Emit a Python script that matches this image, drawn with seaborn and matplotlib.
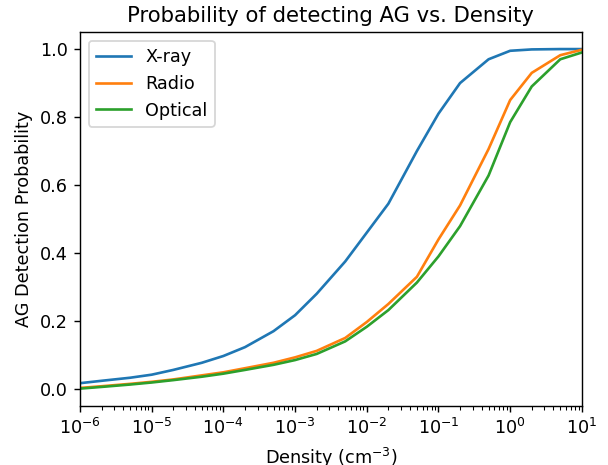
import seaborn as sns
import matplotlib.pyplot as plt
import pandas as pd

density = [1e-6, 2e-6, 5e-6, 1e-5, 2e-5, 5e-5, 1e-4, 2e-4, 5e-4,
           1e-3, 2e-3, 5e-3, 1e-2, 2e-2, 5e-2, 1e-1, 2e-1, 5e-1,
           1.0, 2.0, 5.0, 10.0]
xray = [0.017, 0.024, 0.033, 0.042, 0.056, 0.077, 0.097, 0.123, 0.17,
        0.217, 0.28, 0.375, 0.46, 0.545, 0.70, 0.81, 0.90, 0.97,
        0.995, 0.999, 1.0, 1.0]
radio = [0.003, 0.008, 0.015, 0.021, 0.028, 0.04, 0.049, 0.061, 0.077,
         0.093, 0.112, 0.15, 0.197, 0.25, 0.33, 0.44, 0.54, 0.706,
         0.85, 0.93, 0.982, 0.998]
optical = [0.001, 0.006, 0.013, 0.019, 0.026, 0.036, 0.045, 0.056, 0.071,
           0.085, 0.103, 0.14, 0.183, 0.232, 0.313, 0.39, 0.479, 0.628,
           0.785, 0.89, 0.97, 0.99]
bands = ['X-ray', 'Radio', 'Optical']

df = pd.DataFrame({
    'density': density * 3,
    'prob': xray + radio + optical,
    'band': [b for b in bands for _ in density],
})

fig = plt.figure(figsize=(608 / 127, 465 / 127), dpi=127)
ax = fig.add_subplot(111)
fig.subplots_adjust(left=0.1316, right=0.957, top=0.931, bottom=0.127)

sns.lineplot(data=df, x='density', y='prob', hue='band', hue_order=bands,
             palette=['#1f77b4', '#ff7f0e', '#2ca02c'], ax=ax, linewidth=1.5)
ax.set_xscale('log')
ax.set_xlim(1e-6, 10)
ax.set_ylim(-0.05, 1.05)
sns.move_legend(ax, 'upper left', title=None)

ax.set_title('Probability of detecting AG vs. Density')
ax.set_xlabel('Density (cm$^{-3}$)')
ax.set_ylabel('AG Detection Probability')

fig.savefig('out.png', dpi=127)
